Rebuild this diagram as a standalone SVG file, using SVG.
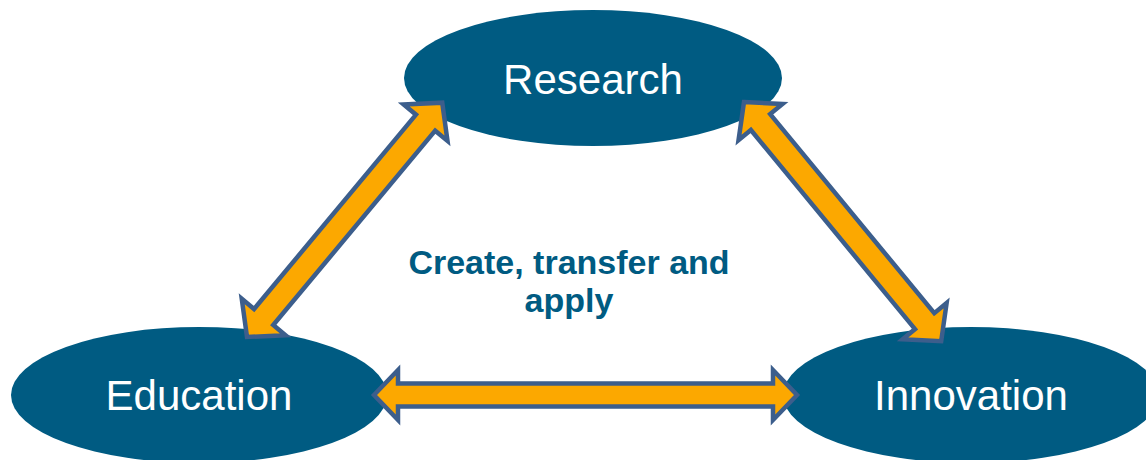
<svg xmlns="http://www.w3.org/2000/svg" width="1146" height="460" viewBox="0 0 1146 460">
<style>
.node{fill:#005B82}
.lbl{font-family:"Liberation Sans",Arial,sans-serif;font-size:42px;fill:#ffffff;text-anchor:middle}
.mid{font-family:"Liberation Sans",Arial,sans-serif;font-size:34px;font-weight:bold;fill:#005B82;text-anchor:middle}
.arr{fill:#FCA800;stroke:#3C5E8C;stroke-width:4.5;stroke-linejoin:miter}
</style>
<rect width="1146" height="460" fill="#ffffff"/>
<g id="research"><ellipse class="node" cx="593" cy="78" rx="189" ry="68"/><text class="lbl" x="593" y="94">Research</text></g>
<g id="education"><ellipse class="node" cx="199" cy="395" rx="188" ry="68"/><text class="lbl" x="199" y="410">Education</text></g>
<g id="innovation"><ellipse class="node" cx="971" cy="395" rx="188" ry="68"/><text class="lbl" x="971" y="410">Innovation</text></g>
<g id="connectors">
<path class="arr" transform="translate(374,395)" d="M0,0 L24,-25 L24,-11.5 L399,-11.5 L399,-25 L423,0 L399,25 L399,11.5 L24,11.5 L24,25 Z"/>
<path class="arr" transform="translate(247,337) rotate(-50.2)" d="M0,0 L26,-28.5 L26,-12.5 L279,-12.5 L279,-28.5 L305,0 L279,28.5 L279,12.5 L26,12.5 L26,28.5 Z"/>
<path class="arr" transform="translate(744,102) rotate(50.5)" d="M0,0 L26,-28.5 L26,-12.5 L284,-12.5 L284,-28.5 L310,0 L284,28.5 L284,12.5 L26,12.5 L26,28.5 Z"/>
</g>
<g id="caption"><text class="mid" x="569" y="274">Create, transfer and</text><text class="mid" x="569" y="312">apply</text></g>
</svg>
